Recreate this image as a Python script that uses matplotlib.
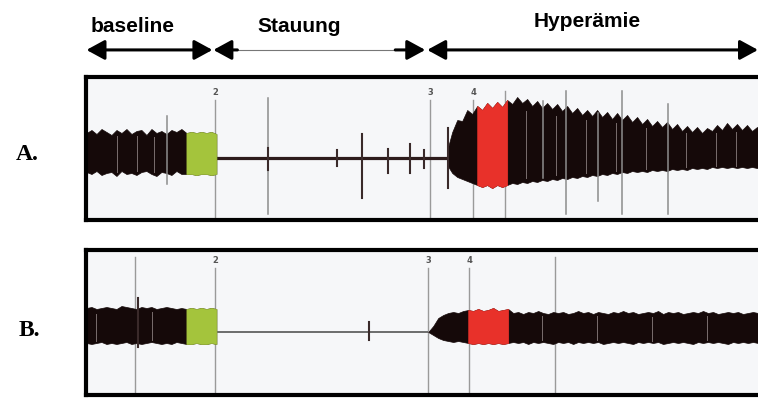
import numpy as np
import matplotlib
matplotlib.use("Agg")
import matplotlib.pyplot as plt

# ---------------- data (time in arbitrary recording units) ----------------
phase_names = ["baseline", "Stauung", "Hyperämie"]
phase_start = [0, 127, 341]
phase_end = [126, 339, 672]

# Panel A ----------------------------------------------------------------
a_base_t0 = 0
a_base_upper = [25, 28, 24, 29, 26, 23, 28, 25, 29, 24, 27, 28, 23, 29, 25, 27, 24, 28, 26, 29,
                25, 26, 25, 26, 25, 26, 24]
a_base_lower = [14, 16, 13, 17, 15, 14, 18, 13, 16, 15, 17, 14, 13, 16, 18, 14, 15, 17, 13, 16,
                16, 16, 17, 16, 16, 17, 16]
a_green = (100, 130)
a_stau = (130, 361)
a_hyp_t0 = 361
a_hyp_upper = [8, 26, 38, 37, 48, 44, 52, 48, 55, 50, 56, 51, 58, 54, 61, 55, 59, 52, 57, 50,
               55, 49, 54, 47, 52, 45, 50, 43, 48, 42, 48, 41, 46, 39, 45, 38, 43, 36, 41, 34,
               39, 32, 37, 31, 36, 29, 34, 27, 32, 26, 31, 25, 30, 27, 33, 28, 35, 29, 34, 28,
               33, 27, 31, 27]
a_hyp_lower = [7, 15, 19, 21, 23, 25, 27, 29, 27, 30, 27, 29, 27, 25, 26, 24, 25, 23, 24, 22,
               23, 21, 22, 20, 21, 19, 20, 18, 19, 17, 18, 16, 17, 15, 16, 14, 15, 13, 14, 13,
               14, 12, 13, 12, 13, 11, 12, 11, 12, 10, 11, 10, 11, 9, 10, 9, 10, 9, 10, 9,
               10, 9, 10, 9]
a_red = (391, 421)
a_marker_t = [129, 344, 387]
a_marker_lbl = ["2", "3", "4"]
a_plain_lines = [419]
a_spike_t = [81, 182, 182, 251, 276, 302, 324, 338, 362, 457, 480, 512, 536, 582]
a_spike_up = [42, 60, 10, 8, 24, 9, 14, 8, 30, 57, 67, 45, 67, 54]
a_spike_dn = [26, 56, 12, 8, 40, 15, 15, 10, 30, 20, 56, 43, 56, 56]
a_streaks = [31, 51, 68, 440, 470, 500, 530, 560, 600, 630, 650]

# Panel B ----------------------------------------------------------------
b_base_t0 = 0
b_base_upper = [24, 25, 23, 24, 25, 24, 23, 26, 25, 24, 23, 25, 24, 25, 23, 24, 25, 24, 23, 24,
                23, 24, 23, 24, 23, 24, 23]
b_base_lower = [11, 12, 11, 10, 12, 11, 12, 11, 10, 12, 11, 12, 11, 10, 11, 12, 11, 12, 10, 11,
                12, 12, 11, 12, 12, 11, 12]
b_green = (100, 130)
b_stau = (130, 342)
b_hyp_t0 = 342
b_hyp_upper = [0, 6, 14, 17, 19, 20, 19, 21, 22, 21, 23, 21, 22, 24, 21, 22, 23,
               19, 20, 18, 20, 19, 21, 19, 18, 20, 19, 20, 18, 19, 21, 19, 20, 18, 20, 19, 18,
               20, 19, 21, 19, 20, 18, 19, 20, 19, 21, 18, 20, 19, 20, 18, 19, 20, 19, 21, 19,
               20, 18, 19, 20, 19, 20, 18, 19, 20, 19, 21]
b_hyp_lower = [0, 3, 6, 8, 9, 10, 9, 10, 11, 12, 11, 12, 11, 12, 11, 12, 11,
               10, 11, 10, 12, 10, 11, 10, 11, 12, 10, 11, 10, 12, 10, 11, 10, 11, 10, 12, 11,
               10, 11, 10, 11, 12, 10, 11, 10, 11, 10, 12, 11, 10, 11, 10, 11, 12, 10, 11, 10,
               11, 10, 11, 12, 10, 11, 10, 11, 10, 11, 10]
b_red = (382, 422)
b_marker_t = [129, 342, 383]
b_marker_lbl = ["2", "3", "4"]
b_plain_lines = [49, 469]
b_spike_t = [52, 283]
b_spike_up = [34, 10]
b_spike_dn = [15, 8]
b_streaks = [10, 66, 456, 511, 566, 621]

# ---------------- styling ----------------
W, H = 758, 401
BLACK = "#150909"
GREEN = "#a4c43c"
RED = "#e8312a"
GRAY = "#9a9a9a"
BG = "#f6f7f9"
STEP = 5

fig = plt.figure(figsize=(W / 100, H / 100), dpi=100)
fig.patch.set_facecolor("white")


def px_axes(left, top, right, bottom):
    return fig.add_axes([left / W, 1 - bottom / H, (right - left) / W, (bottom - top) / H])


def draw_panel(ax, ylim, base_t0, bu, bl, green, stau, stau_lw, stau_col,
               hyp_t0, hu, hl, red, mk_t, mk_lbl, mk_top, plain, plain_top,
               sp_t, sp_u, sp_d, streaks):
    ax.set_facecolor(BG)
    ax.set_xlim(-0.5, 676)
    ax.set_ylim(*ylim)
    ax.set_xticks([])
    ax.set_yticks([])
    for s in ax.spines.values():
        s.set_linewidth(3.0)
        s.set_color("black")

    # event marker lines
    for t, lbl in zip(mk_t, mk_lbl):
        ax.plot([t, t], [ylim[0], mk_top], color=GRAY, lw=1.0, zorder=1)
        ax.text(t, mk_top + 3, lbl, fontsize=6, color="#555555", ha="center",
                va="bottom", fontweight="bold", zorder=1)
    for t in plain:
        ax.plot([t, t], [ylim[0], plain_top], color=GRAY, lw=1.0, zorder=1)

    # baseline with green section
    tb = base_t0 + STEP * np.arange(len(bu))
    bu = np.array(bu, float)
    bl = np.array(bl, float)
    ax.fill_between(tb, -bl, bu, color=BLACK, lw=0.5, zorder=2)
    m = (tb >= green[0]) & (tb <= green[1])
    ax.fill_between(tb[m], -bl[m], bu[m], color=GREEN, lw=0.5, zorder=2.1)

    # occlusion phase
    ax.plot([stau[0], stau[1]], [0, 0], color=stau_col, lw=stau_lw, zorder=2,
            solid_capstyle="butt")

    # hyperaemia with red section
    th = hyp_t0 + STEP * np.arange(len(hu))
    hu = np.array(hu, float)
    hl = np.array(hl, float)
    ax.fill_between(th, -hl, hu, color=BLACK, lw=0.5, zorder=2)
    m = (th >= red[0]) & (th <= red[1])
    ax.fill_between(th[m], -hl[m], hu[m], color=RED, lw=0.5, zorder=2.1)

    # light streaks inside the dense signal
    t_all = np.concatenate([tb, th])
    u_all = np.concatenate([bu, hu])
    l_all = np.concatenate([bl, hl])
    order = np.argsort(t_all)
    for t in streaks:
        u = np.interp(t, t_all[order], u_all[order])
        l = np.interp(t, t_all[order], l_all[order])
        ax.plot([t, t], [-0.8 * l, 0.8 * u], color="#7a6e6e", lw=0.7, zorder=2.5)

    # spikes
    for t, u, d in zip(sp_t, sp_u, sp_d):
        if max(u, d) >= 42:
            ax.plot([t, t], [-d, u], color="#8c8c8c", lw=1.1, zorder=3)
        else:
            ax.plot([t, t], [-d, u], color="#3a2a2a", lw=1.5, zorder=3)


# Panel A
axA = px_axes(86, 77, 762, 219.5)
draw_panel(axA, (-61.5, 81), a_base_t0, a_base_upper, a_base_lower, a_green,
           a_stau, 2.3, "#2d1c1c", a_hyp_t0, a_hyp_upper, a_hyp_lower, a_red,
           a_marker_t, a_marker_lbl, 58, a_plain_lines, 67,
           a_spike_t, a_spike_up, a_spike_dn, a_streaks)

# Panel B
axB = px_axes(86, 249.5, 762, 395)
draw_panel(axB, (-63, 82.5), b_base_t0, b_base_upper, b_base_lower, b_green,
           b_stau, 1.2, "#555555", b_hyp_t0, b_hyp_upper, b_hyp_lower, b_red,
           b_marker_t, b_marker_lbl, 64, b_plain_lines, 75,
           b_spike_t, b_spike_up, b_spike_dn, b_streaks)

# phase arrows above panel A
trans = axA.get_xaxis_transform()
ARROW_Y = 1.19
head = "-|>,head_length=0.55,head_width=0.3"
both = "<|-|>,head_length=0.55,head_width=0.3"
for i, name in enumerate(phase_names):
    s, e = phase_start[i], phase_end[i]
    if name == "Stauung":
        ax_kw = dict(xycoords=trans, textcoords=trans, annotation_clip=False)
        axA.annotate("", xy=(s, ARROW_Y), xytext=(s + 24, ARROW_Y),
                     arrowprops=dict(arrowstyle=head, mutation_scale=20, lw=2.2,
                                     color="black", shrinkA=0, shrinkB=0), **ax_kw)
        axA.annotate("", xy=(e, ARROW_Y), xytext=(e - 30, ARROW_Y),
                     arrowprops=dict(arrowstyle=head, mutation_scale=20, lw=2.2,
                                     color="black", shrinkA=0, shrinkB=0), **ax_kw)
        axA.plot([s + 24, e - 30], [ARROW_Y, ARROW_Y], transform=trans,
                 color="#777777", lw=0.8, clip_on=False)
    else:
        axA.annotate("", xy=(e, ARROW_Y), xytext=(s, ARROW_Y), xycoords=trans,
                     textcoords=trans, annotation_clip=False,
                     arrowprops=dict(arrowstyle=both, mutation_scale=20, lw=2.2,
                                     color="black", shrinkA=0, shrinkB=0))

label_x = [46, 213, 501]
label_y = [1.351, 1.351, 1.386]
for name, lx, ly in zip(phase_names, label_x, label_y):
    axA.text(lx, ly, name, transform=trans, ha="center", va="center",
             fontsize=15, fontweight="bold", family="Liberation Sans", clip_on=False)

# panel letters
fig.text(27 / W, 1 - 155 / H, "A.", ha="center", va="center", fontsize=17,
         fontweight="bold", family="Liberation Serif")
fig.text(29 / W, 1 - 331 / H, "B.", ha="center", va="center", fontsize=17,
         fontweight="bold", family="Liberation Serif")

fig.savefig("out.png", dpi=100, facecolor="white")
